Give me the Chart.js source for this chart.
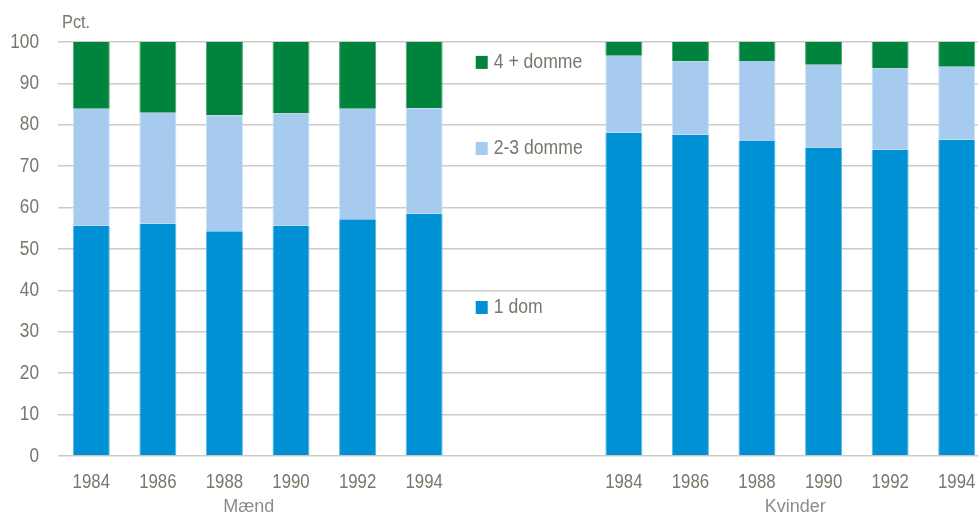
<!DOCTYPE html>
<html>
<head>
<meta charset="utf-8">
<script src="https://cdn.jsdelivr.net/npm/chart.js@4/dist/chart.umd.min.js"></script>
<style>
  html, body { margin: 0; padding: 0; background: #fff; overflow: hidden; width: 978px; height: 517px; }
  #wrap { width: 990px; height: 517px; }
</style>
</head>
<body>
<div id="wrap"><canvas id="c" width="990" height="517"></canvas></div>
<script>
// Categories: 6 years for men, two empty slots, 6 years for women
const categories = ['1984','1986','1988','1990','1992','1994','','','1984','1986','1988','1990','1992','1994'];
const groupLabels = ['Mænd', 'Kvinder'];
const seriesNames = ['1 dom', '2-3 domme', '4 + domme'];
const yTicks = [0,10,20,30,40,50,60,70,80,90,100];
const yUnit = 'Pct.';

// Shares (pct.)
const oneSentence   = [55.6, 56.1, 54.3, 55.6, 57.2, 58.5, null, null, 78.1, 77.6, 76.1, 74.5, 74.0, 76.4];
const twoThree      = [28.3, 26.8, 28.0, 27.1, 26.7, 25.5, null, null, 18.6, 17.7, 19.3, 20.0, 19.6, 17.6];
const fourPlus      = [16.1, 17.1, 17.7, 17.3, 16.1, 16.0, null, null,  3.3,  4.7,  4.6,  5.5,  6.4,  6.0];

const colors = ['#0091D5', '#A7CBEE', '#00843D'];
const textColor = '#77776B';
const FAM = '"Liberation Sans", Arial, sans-serif';

// draw horizontally condensed text (the original uses a narrow face)
function condText(ctx, txt, x, y, size, sx, align, color) {
  ctx.save();
  ctx.font = size + 'px ' + FAM;
  ctx.fillStyle = color;
  ctx.textBaseline = 'middle';
  ctx.textAlign = align;
  ctx.translate(x, y);
  ctx.scale(sx, 1);
  ctx.fillText(txt, 0, 0);
  ctx.restore();
}

const overlay = {
  id: 'overlay',
  afterDraw(chart) {
    const ctx = chart.ctx;
    const xs = chart.scales.x, ys = chart.scales.y;

    // y tick labels
    ys.ticks.forEach(t => {
      condText(ctx, String(t.value), 39, ys.getPixelForValue(t.value), 20, 0.86, 'right', textColor);
    });
    // x tick labels
    categories.forEach((c, i) => {
      if (c) condText(ctx, c, xs.getPixelForValue(i), 482, 20, 0.84, 'center', textColor);
    });

    condText(ctx, yUnit, 62, 23, 19, 0.86, 'left', textColor);

    // group labels
    condText(ctx, groupLabels[0], (xs.getPixelForValue(0) + xs.getPixelForValue(5)) / 2 - 9, 507, 18, 1, 'center', '#8C8C8C');
    condText(ctx, groupLabels[1], (xs.getPixelForValue(8) + xs.getPixelForValue(13)) / 2 + 5, 507, 18, 1, 'center', '#8C8C8C');

    // legend in the gap
    const lx = xs.getPixelForValue(6) - 15;
    const legendY = [36.0, 74.4, 95.2];
    for (let i = 0; i < 3; i++) {
      const y = ys.getPixelForValue(legendY[i]);
      ctx.fillStyle = colors[i];
      ctx.fillRect(lx, y - 6, 12, 13);
      condText(ctx, seriesNames[i], lx + 18, y + 1, 20, 0.88, 'left', textColor);
    }
  }
};

new Chart(document.getElementById('c'), {
  type: 'bar',
  data: {
    labels: categories,
    datasets: [
      { label: seriesNames[0], data: oneSentence, backgroundColor: colors[0], borderColor: '#5FB6E4', borderWidth: {left:1, right:1, top:0, bottom:0}, borderSkipped: false },
      { label: seriesNames[1], data: twoThree, backgroundColor: colors[1], borderColor: '#C8DFF5', borderWidth: {left:1, right:1, top:0, bottom:0}, borderSkipped: false },
      { label: seriesNames[2], data: fourPlus, backgroundColor: colors[2], borderColor: '#4AA873', borderWidth: {left:1, right:1, top:0, bottom:0}, borderSkipped: false }
    ]
  },
  options: {
    responsive: false,
    animation: false,
    layout: { padding: { top: 42, left: 0, right: 0, bottom: 0 } },
    plugins: { legend: { display: false }, tooltip: { enabled: false } },
    datasets: { bar: { barPercentage: 1, categoryPercentage: 0.556 } },
    scales: {
      x: {
        stacked: true,
        grid: { display: false, drawTicks: false },
        border: { display: false },
        ticks: { display: false, autoSkip: false },
        afterFit(s) { s.height = 61; }
      },
      y: {
        stacked: true,
        min: 0, max: 100,
        afterBuildTicks(s) { s.ticks = yTicks.map(v => ({ value: v })); },
        grid: { color: '#CCCCC4', lineWidth: 1.5, drawTicks: false },
        border: { display: false },
        ticks: { display: false },
        afterFit(s) { s.width = 58; }
      }
    }
  },
  plugins: [overlay]
});
</script>
</body>
</html>
